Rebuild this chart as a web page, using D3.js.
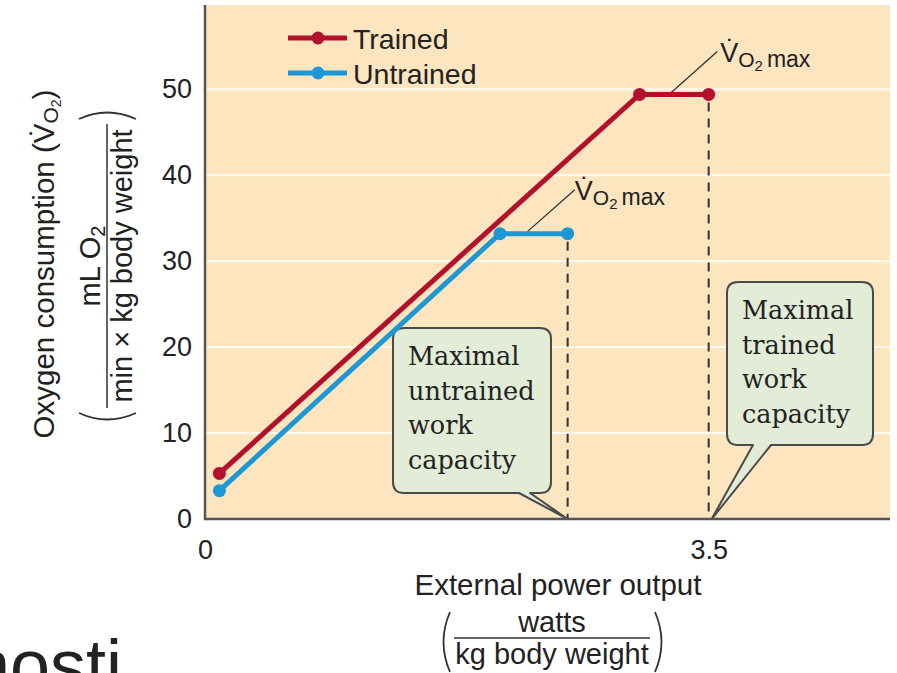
<!DOCTYPE html>
<html>
<head>
<meta charset="utf-8">
<script src="https://cdn.jsdelivr.net/npm/d3@7"></script>
<style>
body { margin: 0; background: #fff; }
svg { display: block; }
text { font-family: "Liberation Sans", Arial, sans-serif; fill: #222; }
.serif { font-family: "DejaVu Serif", serif; fill: #222; }
</style>
</head>
<body>
<div id="chart"></div>
<script>
// values
var seriesNames = ["Trained", "Untrained"];
var trainedX = [0.1, 3.02, 3.5];
var trainedY = [5.3, 49.4, 49.4];
var untrainedX = [0.1, 2.05, 2.52];
var untrainedY = [3.3, 33.2, 33.2];
var yTicks = [0, 10, 20, 30, 40, 50];
var xTicks = [0, 3.5];
var xTickLabels = ["0", "3.5"];
var untrainedNote = ["Maximal", "untrained", "work", "capacity"];
var trainedNote = ["Maximal", "trained", "work", "capacity"];

var width = 897, height = 673;
var margin = {top: 5, right: 7, bottom: 154, left: 205};
var red = "#b3102c", blue = "#1b98d5";

var x = d3.scaleLinear().domain([0, 4.76]).range([margin.left, width - margin.right]);
var y = d3.scaleLinear().domain([0, 59.8]).range([height - margin.bottom, margin.top]);

var svg = d3.select('#chart')
    .append('svg')
    .attr('width', width)
    .attr('height', height);

svg.append('rect')
    .attr('width', width).attr('height', height)
    .attr('fill', '#fff');

// plot background
svg.append('rect')
    .attr('x', x(0)).attr('y', y(59.8))
    .attr('width', x(4.76) - x(0))
    .attr('height', y(0) - y(59.8))
    .attr('fill', '#fde5bf');

// white gridlines
svg.selectAll('.grid')
    .data(yTicks.slice(1))
    .enter().append('line')
    .attr('class', 'grid')
    .attr('x1', x(0)).attr('x2', x(4.76))
    .attr('y1', function(d) { return y(d); })
    .attr('y2', function(d) { return y(d); })
    .attr('stroke', '#fffaf0')
    .attr('stroke-width', 2);

// axes (labels only, lines drawn by hand)
var yAxis = svg.append('g')
    .attr('transform', 'translate(' + x(0) + ',0)')
    .call(d3.axisLeft(y).tickValues(yTicks).tickSize(0).tickPadding(13));
yAxis.select('.domain').remove();
yAxis.selectAll('text').style('font-size', '27px').style('font-family', '"Liberation Sans", Arial, sans-serif').attr('fill', '#222');

var xAxis = svg.append('g')
    .attr('transform', 'translate(0,' + y(0) + ')')
    .call(d3.axisBottom(x).tickValues(xTicks).tickSize(0).tickPadding(21)
        .tickFormat(function(d, i) { return xTickLabels[i]; }));
xAxis.select('.domain').remove();
xAxis.selectAll('text').style('font-size', '27px').style('font-family', '"Liberation Sans", Arial, sans-serif').attr('fill', '#222');

// dashed drop lines at max work capacity
var drops = [
    {x: untrainedX[2], y: untrainedY[2]},
    {x: trainedX[2], y: trainedY[2]}
];
svg.selectAll('.drop')
    .data(drops)
    .enter().append('line')
    .attr('class', 'drop')
    .attr('x1', function(d) { return x(d.x); })
    .attr('x2', function(d) { return x(d.x); })
    .attr('y1', function(d) { return y(d.y) + 8; })
    .attr('y2', y(0))
    .attr('stroke', '#333')
    .attr('stroke-width', 2)
    .attr('stroke-dasharray', '9,7');

// callout boxes
function calloutPath(x0, y0, w, h, r, b1, b2, tx, ty) {
    return 'M' + (x0 + r) + ',' + y0 +
        'H' + (x0 + w - r) + 'Q' + (x0 + w) + ',' + y0 + ' ' + (x0 + w) + ',' + (y0 + r) +
        'V' + (y0 + h - r) + 'Q' + (x0 + w) + ',' + (y0 + h) + ' ' + (x0 + w - r) + ',' + (y0 + h) +
        'H' + b2 + 'L' + tx + ',' + ty + 'L' + b1 + ',' + (y0 + h) +
        'H' + (x0 + r) + 'Q' + x0 + ',' + (y0 + h) + ' ' + x0 + ',' + (y0 + h - r) +
        'V' + (y0 + r) + 'Q' + x0 + ',' + y0 + ' ' + (x0 + r) + ',' + y0 + 'Z';
}

function drawNote(lines, box, tip) {
    var g = svg.append('g');
    g.append('path')
        .attr('d', calloutPath(box.x, box.y, box.w, box.h, 11, box.b1, box.b2, tip[0], tip[1]))
        .attr('fill', '#e3ecd7')
        .attr('stroke', '#4a4a4a')
        .attr('stroke-width', 2)
        .attr('stroke-linejoin', 'round');
    g.selectAll('text')
        .data(lines)
        .enter().append('text')
        .attr('class', 'serif')
        .attr('x', box.x + 15)
        .attr('y', function(d, i) { return box.y + 37 + i * 34.5; })
        .style('font-size', '25.5px')
        .text(function(d) { return d; });
}

drawNote(untrainedNote, {x: 393, y: 328, w: 158, h: 165, b1: 519, b2: 530}, [x(untrainedX[2]), y(0)]);
drawNote(trainedNote, {x: 727, y: 282, w: 146, h: 163, b1: 753, b2: 771}, [x(trainedX[2]) + 3, y(0)]);

// leader lines to VO2 max labels
var leaders = [
    {x: 3.24, y: trainedY[1], lx: 3.56, ly: 54.4},
    {x: 2.24, y: untrainedY[1], lx: 2.57, ly: 38.3}
];
svg.selectAll('.leader')
    .data(leaders)
    .enter().append('line')
    .attr('class', 'leader')
    .attr('x1', function(d) { return x(d.x); })
    .attr('y1', function(d) { return y(d.y) - 2; })
    .attr('x2', function(d) { return x(d.lx); })
    .attr('y2', function(d) { return y(d.ly); })
    .attr('stroke', '#333')
    .attr('stroke-width', 1.3);

function vo2max(px, py) {
    var t = svg.append('text').attr('x', px).attr('y', py);
    t.append('tspan').style('font-size', '27px').text('V\u0307');
    t.append('tspan').style('font-size', '21px').attr('dy', 5).text('O');
    t.append('tspan').style('font-size', '15px').attr('dy', 4).text('2');
    t.append('tspan').style('font-size', '23px').attr('dy', -4).attr('dx', 4).text('max');
}
vo2max(x(3.58), 62);
vo2max(x(2.57), 200);

// series lines
var line = d3.line()
    .x(function(d) { return x(d[0]); })
    .y(function(d) { return y(d[1]); });

var series = [
    {name: seriesNames[0], color: red, pts: d3.zip(trainedX, trainedY)},
    {name: seriesNames[1], color: blue, pts: d3.zip(untrainedX, untrainedY)}
];

series.forEach(function(s) {
    svg.append('path')
        .attr('d', line(s.pts))
        .attr('fill', 'none')
        .attr('stroke', s.color)
        .attr('stroke-width', 5);
    svg.selectAll(null)
        .data(s.pts)
        .enter().append('circle')
        .attr('cx', function(d) { return x(d[0]); })
        .attr('cy', function(d) { return y(d[1]); })
        .attr('r', 6.5)
        .attr('fill', s.color);
});

// axis lines
svg.append('line')
    .attr('x1', x(0)).attr('x2', x(0))
    .attr('y1', y(59.8)).attr('y2', y(0) + 1)
    .attr('stroke', '#555').attr('stroke-width', 2.5);
svg.append('line')
    .attr('x1', x(0) - 1).attr('x2', x(4.76))
    .attr('y1', y(0)).attr('y2', y(0))
    .attr('stroke', '#555').attr('stroke-width', 2.5);

// legend
var legend = svg.selectAll('.legend')
    .data(series)
    .enter().append('g')
    .attr('class', 'legend')
    .attr('transform', function(d, i) { return 'translate(288,' + (38 + i * 35) + ')'; });
legend.append('line')
    .attr('x1', 0).attr('x2', 59)
    .attr('stroke', function(d) { return d.color; })
    .attr('stroke-width', 5);
legend.append('circle')
    .attr('cx', 30).attr('r', 6.5)
    .attr('fill', function(d) { return d.color; });
legend.append('text')
    .attr('x', 65).attr('y', 11)
    .style('font-size', '28.5px')
    .text(function(d) { return d.name; });

// y axis title
var yt = svg.append('g').attr('transform', 'translate(54,264) rotate(-90)');
var t1 = yt.append('text').attr('text-anchor', 'middle').style('font-size', '29.5px');
t1.append('tspan').text('Oxygen consumption (V\u0307');
t1.append('tspan').style('font-size', '21px').attr('dy', 4).text('O');
t1.append('tspan').style('font-size', '14px').attr('dy', 3).text('2');
t1.append('tspan').attr('dy', -7).text(')');

var yf = svg.append('g').attr('transform', 'translate(0,266) rotate(-90)');
var num = yf.append('text').attr('text-anchor', 'middle').attr('y', 100).style('font-size', '29px');
num.append('tspan').text('mL O');
num.append('tspan').style('font-size', '20px').attr('dy', 5).text('2');
yf.append('line')
    .attr('x1', -142).attr('x2', 142)
    .attr('y1', 107).attr('y2', 107)
    .attr('stroke', '#333').attr('stroke-width', 1.5);
yf.append('text').attr('text-anchor', 'middle').attr('y', 132)
    .style('font-size', '29px')
    .text('min \u00d7 kg body weight');
yf.append('path')
    .attr('d', 'M147,79 Q160,107 147,136')
    .attr('fill', 'none').attr('stroke', '#333').attr('stroke-width', 1.8);
yf.append('path')
    .attr('d', 'M-147,79 Q-160,107 -147,136')
    .attr('fill', 'none').attr('stroke', '#333').attr('stroke-width', 1.8);

// x axis title
svg.append('text')
    .attr('x', 558).attr('y', 595)
    .attr('text-anchor', 'middle')
    .style('font-size', '29.5px')
    .text('External power output');
svg.append('text')
    .attr('x', 552).attr('y', 632)
    .attr('text-anchor', 'middle')
    .style('font-size', '29px')
    .text('watts');
svg.append('line')
    .attr('x1', 454).attr('x2', 650)
    .attr('y1', 638).attr('y2', 638)
    .attr('stroke', '#333').attr('stroke-width', 1.5);
svg.append('text')
    .attr('x', 552).attr('y', 664)
    .attr('text-anchor', 'middle')
    .style('font-size', '29px')
    .text('kg body weight');
svg.append('path')
    .attr('d', 'M450,612 Q437,642 450,672')
    .attr('fill', 'none').attr('stroke', '#333').attr('stroke-width', 1.8);
svg.append('path')
    .attr('d', 'M655,612 Q668,642 655,672')
    .attr('fill', 'none').attr('stroke', '#333').attr('stroke-width', 1.8);

// slide text cut off at the bottom-left
svg.append('text')
    .attr('x', 122).attr('y', 690)
    .attr('text-anchor', 'end')
    .style('font-size', '72px')
    .attr('fill', '#111')
    .text('nosti');
</script>
</body>
</html>
